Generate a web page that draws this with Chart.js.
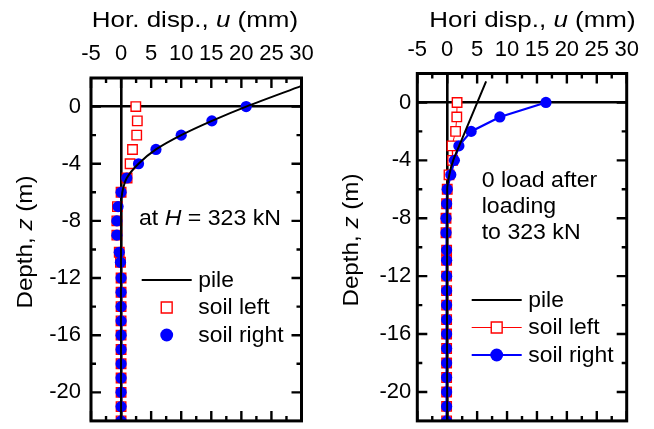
<!DOCTYPE html>
<html>
<head>
<meta charset="utf-8">
<script src="https://cdn.jsdelivr.net/npm/chart.js@4.4.0/dist/chart.umd.min.js"></script>
<style>
  html, body { margin: 0; padding: 0; background: #fff; }
  #wrap { position: relative; width: 654px; height: 429px; }
  canvas { position: absolute; top: 0; }
  #chartLeft { left: 0; }
  #chartRight { left: 327px; }
</style>
</head>
<body>
<div id="wrap">
  <canvas id="chartLeft" width="327" height="429"></canvas>
  <canvas id="chartRight" width="327" height="429"></canvas>
</div>
<script>
// depth of the soil nodes, z (m)
const depthNodes = [0, -1, -2, -3, -4, -5, -6, -7, -8, -9, -10.2, -10.9, -12, -13, -14, -15, -16, -17, -18, -19, -20, -21, -22];

// horizontal displacement u (mm) at H = 323 kN
const soilLeftLoaded  = [2.45, 2.7, 2.6, 1.9, 1.5, 1.0, 0.0, -0.6, -0.7, -0.7, -0.3, -0.1, 0, 0, 0, 0, 0, 0, 0, 0, 0, 0, 0];
const soilRightLoaded = [20.8, 15.1, 10.0, 5.8, 2.9, 0.95, 0.0, -0.5, -0.7, -0.7, -0.3, -0.1, 0, 0, 0, 0, 0, 0, 0, 0, 0, 0, 0];
const pileDepthLoaded = [1.45, 0, -1, -2, -3, -4, -5, -6, -7, -22];
const pileDispLoaded  = [30, 20.8, 15.1, 10.0, 5.8, 2.9, 0.95, 0.2, 0, 0];

// residual displacement after unloading from 323 kN
const soilLeftUnloaded  = [1.65, 1.6, 1.4, 0.8, 0.9, 0.3, 0.0, -0.1, -0.2, -0.2, -0.1, -0.1, -0.1, -0.1, -0.1, -0.1, -0.1, -0.1, -0.1, -0.1, -0.1, -0.1, -0.1];
const soilRightUnloaded = [16.5, 8.8, 4.0, 1.95, 1.2, 0.6, 0.0, -0.1, -0.2, -0.2, -0.1, -0.1, -0.1, -0.1, -0.1, -0.1, -0.1, -0.1, -0.1, -0.1, -0.1, -0.1, -0.1];
const pileDepthUnloaded = [1.46, -2.9, -4, -5, -6, -22];
const pileDispUnloaded  = [6.5, 2.1, 1.0, 0.35, 0, 0];

// axis labels
const dispTicks  = [-5, 0, 5, 10, 15, 20, 25, 30];
const depthTicks = [0, -4, -8, -12, -16, -20];

const FONT = "'Liberation Sans', Arial, sans-serif";

function toPoints(xs, ys) {
  return xs.map((x, i) => ({ x: x, y: ys[i] }));
}

// text made of plain / italic pieces, optionally widened a little
function textRuns(ctx, runs, x, y, size, stretch, align) {
  ctx.save();
  ctx.translate(x, y);
  ctx.scale(stretch, 1);
  ctx.textAlign = 'left';
  ctx.textBaseline = 'alphabetic';
  ctx.fillStyle = '#000';
  const widths = runs.map(r => {
    ctx.font = (r[1] ? 'italic ' : '') + size + 'px ' + FONT;
    return ctx.measureText(r[0]).width;
  });
  const total = widths.reduce((a, b) => a + b, 0);
  let cx = align === 'center' ? -total / 2 : 0;
  runs.forEach((r, i) => {
    ctx.font = (r[1] ? 'italic ' : '') + size + 'px ' + FONT;
    ctx.fillText(r[0], cx, 0);
    cx += widths[i];
  });
  ctx.restore();
}

// frame, inward ticks, titles, note and legend
const panelDecor = {
  id: 'panelDecor',
  afterDraw(chart, args, o) {
    const ctx = chart.ctx;
    const a = chart.chartArea;
    const xs = chart.scales.x, ys = chart.scales.y;
    ctx.save();
    ctx.strokeStyle = '#000';
    ctx.lineWidth = 2.4;
    ctx.beginPath();
    const xMarks = [];
    dispTicks.forEach((v, i) => {
      xMarks.push([v, 10]);
      if (i < dispTicks.length - 1) xMarks.push([(v + dispTicks[i + 1]) / 2, 5]);
    });
    xMarks.forEach(([v, len]) => {
      const px = xs.getPixelForValue(v);
      ctx.moveTo(px, a.top); ctx.lineTo(px, a.top + len);
      ctx.moveTo(px, a.bottom); ctx.lineTo(px, a.bottom - len);
    });
    const yMarks = [];
    depthTicks.forEach((v, i) => {
      yMarks.push([v, 10]);
      if (i < depthTicks.length - 1) yMarks.push([(v + depthTicks[i + 1]) / 2, 5]);
    });
    yMarks.forEach(([v, len]) => {
      const py = ys.getPixelForValue(v);
      ctx.moveTo(a.left, py); ctx.lineTo(a.left + len, py);
      ctx.moveTo(a.right, py); ctx.lineTo(a.right - len, py);
    });
    ctx.stroke();
    ctx.lineWidth = 3;
    ctx.strokeRect(a.left, a.top, a.right - a.left, a.bottom - a.top);

    // axis titles
    textRuns(ctx, o.xTitle, o.xTitleX, o.xTitleY, 22, 1.18, 'center');
    ctx.save();
    ctx.translate(o.yTitleX, o.yTitleY);
    ctx.rotate(-Math.PI / 2);
    textRuns(ctx, [['Depth, ', false], ['z', true], [' (m)', false]], 0, 0, 22, 1.1, 'center');
    ctx.restore();

    // load case note
    o.note.forEach((line, i) => textRuns(ctx, line, o.noteX, o.noteY + i * o.noteGap, 22, 1.05, 'left'));

    // legend
    const L = o.legend;
    chart.data.datasets.forEach((ds, i) => {
      const yRow = L.y + i * L.gap;
      const xm = L.x + L.len / 2;
      ctx.save();
      if (ds.showLine) {
        ctx.strokeStyle = ds.borderColor;
        ctx.lineWidth = ds.borderWidth;
        ctx.beginPath();
        ctx.moveTo(L.x, yRow);
        ctx.lineTo(L.x + L.len, yRow);
        ctx.stroke();
      }
      if (ds.pointRadius > 0) {
        ctx.fillStyle = ds.pointBackgroundColor;
        ctx.strokeStyle = ds.pointBorderColor;
        ctx.lineWidth = ds.pointBorderWidth;
        Chart.helpers.drawPoint(ctx, {
          pointStyle: ds.pointStyle, radius: ds.pointRadius * 1.15, rotation: 0, borderWidth: ds.pointBorderWidth
        }, xm, yRow);
      }
      ctx.restore();
      textRuns(ctx, [[ds.label, false]], L.x + L.len + 6.6, yRow + 6.5, 22, 1.04, 'left');
    });
    ctx.restore();
  }
};

function makePanel(id, p) {
  const zeroLine = c => (c.tick && c.tick.value === 0 ? '#000' : 'rgba(0,0,0,0)');
  return new Chart(document.getElementById(id), {
    type: 'scatter',
    data: {
      datasets: [
        {
          label: 'pile',
          data: toPoints(p.pileDisp, p.pileDepth),
          showLine: true,
          borderColor: '#000',
          borderWidth: 2,
          pointRadius: 0,
          tension: 0.3,
          order: 0
        },
        {
          label: 'soil left',
          data: toPoints(p.left, depthNodes),
          showLine: p.linked,
          borderColor: '#ff0000',
          borderWidth: 1,
          pointStyle: 'rect',
          pointRadius: 6.7,
          pointBorderColor: '#ff0000',
          pointBackgroundColor: '#ffffff',
          pointBorderWidth: 1.4,
          order: 2
        },
        {
          label: 'soil right',
          data: toPoints(p.right, depthNodes),
          showLine: p.linked,
          borderColor: '#0000ff',
          borderWidth: 2.2,
          pointStyle: 'circle',
          pointRadius: 5.6,
          pointBorderColor: '#0000ff',
          pointBackgroundColor: '#0000ff',
          pointBorderWidth: 0,
          order: 1
        }
      ]
    },
    options: {
      responsive: false,
      animation: false,
      layout: { padding: { left: 0, top: 0, right: 327 - p.area.right, bottom: 429 - p.area.bottom } },
      plugins: {
        legend: { display: false },
        tooltip: { enabled: false },
        panelDecor: p.decor
      },
      scales: {
        x: {
          type: 'linear',
          position: 'top',
          min: -5,
          max: 30,
          afterBuildTicks: s => { s.ticks = dispTicks.map(v => ({ value: v })); },
          afterFit: s => { s.height = p.area.top; s.paddingLeft = 0; s.paddingRight = 0; },
          ticks: { autoSkip: false, maxRotation: 0, minRotation: 0, padding: p.xPad, color: '#000', font: { family: FONT, size: 22 } },
          grid: { drawTicks: false, lineWidth: 2.6, color: zeroLine },
          border: { display: false }
        },
        y: {
          type: 'linear',
          position: 'left',
          min: -22,
          max: 2,
          afterBuildTicks: s => { s.ticks = depthTicks.map(v => ({ value: v })); },
          afterFit: s => { s.width = p.area.left; s.paddingTop = 0; s.paddingBottom = 0; },
          ticks: { padding: p.yPad, color: '#000', font: { family: FONT, size: 22 } },
          grid: { drawTicks: false, lineWidth: 2.6, color: zeroLine },
          border: { display: false }
        }
      }
    },
    plugins: [panelDecor]
  });
}

makePanel('chartLeft', {
  pileDisp: pileDispLoaded, pileDepth: pileDepthLoaded,
  left: soilLeftLoaded, right: soilRightLoaded,
  linked: false,
  area: { left: 91, top: 78, right: 301.5, bottom: 426 },
  xPad: 11,
  yPad: 10,
  decor: {
    xTitle: [['Hor. disp., ', false], ['u', true], [' (mm)', false]],
    xTitleX: 195, xTitleY: 27,
    yTitleX: 32, yTitleY: 242,
    note: [[['at ', false], ['H', true], [' = 323 kN', false]]],
    noteX: 139, noteY: 225, noteGap: 26,
    legend: { x: 141.7, y: 280, len: 50, gap: 27.5 }
  }
});

makePanel('chartRight', {
  pileDisp: pileDispUnloaded, pileDepth: pileDepthUnloaded,
  left: soilLeftUnloaded, right: soilRightUnloaded,
  linked: true,
  area: { left: 90.3, top: 73.5, right: 299.7, bottom: 426 },
  xPad: 10,
  yPad: 6,
  decor: {
    xTitle: [['Hori disp., ', false], ['u', true], [' (mm)', false]],
    xTitleX: 205.5, xTitleY: 27,
    yTitleX: 30.5, yTitleY: 240,
    note: [[['0 load after', false]], [['loading', false]], [['to 323 kN', false]]],
    noteX: 154.7, noteY: 186.7, noteGap: 26.2,
    legend: { x: 144.7, y: 300, len: 50, gap: 27.5 }
  }
});
</script>
</body>
</html>
